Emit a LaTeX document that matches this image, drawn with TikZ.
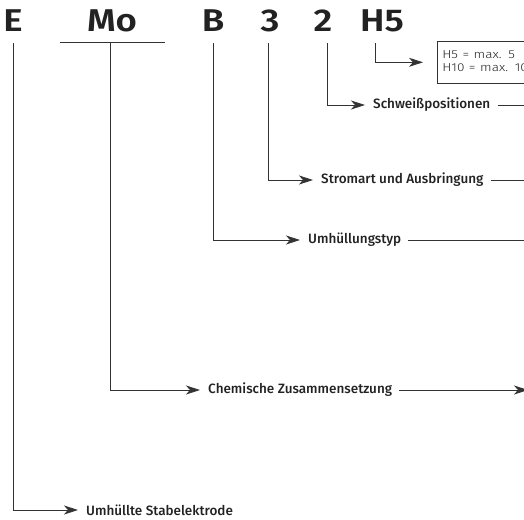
\documentclass[tikz,border=0pt]{standalone}
\usepackage{fontspec}
\setmainfont{Fira Sans}
\newfontfamily\firamed{Fira Sans Medium}
\newfontfamily\firasb{Fira Sans SemiBold}
\newfontfamily\firalight{Fira Sans Light}
\usetikzlibrary{arrows.meta}
\definecolor{ink}{HTML}{222222}
\definecolor{linec}{HTML}{333333}
\newcommand{\wideglyphs}[1]{\scalebox{1.16}[1]{#1}}
\newcommand{\widebox}[1]{\scalebox{1.18}[1]{\begin{tabular}{@{}l@{}}#1\end{tabular}}}
\begin{document}
\begin{tikzpicture}[x=1pt,y=-1pt,
  big/.style={font=\fontsize{31.5}{32}\selectfont\firasb, text=ink, anchor=base, inner sep=0pt},
  lab/.style={font=\fontsize{13.5}{15}\selectfont\firamed, text=ink, anchor=west, inner sep=0pt},
  conn/.style={draw=linec, line width=0.8pt},
  arr/.style={conn, -{Stealth[length=14pt,width=9pt,inset=4pt]}, shorten >=8pt},
  tail/.style={conn, shorten <=7pt}]
\useasboundingbox (0,0) rectangle (524,519);
% code letters
\node[big] (E)  at (13,32)  {\wideglyphs{E}};
\node[big] (Mo) at (112,32) {\wideglyphs{Mo}};
\node[big] (B)  at (213,32) {\wideglyphs{B}};
\node[big] (n3) at (270,32) {\wideglyphs{3}};
\node[big] (n2) at (323,32) {\wideglyphs{2}};
\node[big] (H5) at (382,32) {\wideglyphs{H5}};
% tops of the connectors
\coordinate (uL) at (60,42);
\coordinate (uR) at (165,42);
\coordinate (tE) at (13,43);
\coordinate (tMo) at (110,42);
\coordinate (tB) at (213,43);
\coordinate (t3) at (268,43);
\coordinate (t2) at (327,43);
\coordinate (tH) at (375,43);
% labels
\node[lab] (lE)  at (86,510)  {Umhüllte Stabelektrode};
\node[lab] (lMo) at (208,390) {Chemische Zusammensetzung};
\node[lab] (lB)  at (308,240) {Umhüllungstyp};
\node[lab] (l3)  at (321,180) {Stromart und Ausbringung};
\node[lab] (l2)  at (373,105) {Schweißpositionen};
\node[draw=linec, line width=0.6pt, anchor=north west,
      font=\fontsize{11.5}{13}\selectfont\firalight, text=ink, inner xsep=5pt, inner ysep=0pt,
      text width=95pt, minimum height=42pt] (hbox) at (437,41) {\widebox{H5 = max. 5\\H10 = max. 10}};
% right free ends
\coordinate (rMo) at (528,390);
\coordinate (rB) at (526,240);
\coordinate (r3) at (526,180);
\coordinate (r2) at (526,105);
% connectors
\draw[conn] (uL) -- (uR);
\draw[arr] (tE) |- (lE.west);
\draw[arr] (tMo) |- (lMo.west);
\draw[arr] (tB) |- (lB.west);
\draw[arr] (t3) |- (l3.west);
\draw[arr] (t2) |- (l2.west);
\draw[arr, shorten >=14pt] (tH) |- (hbox.west);
\draw[tail, -{Stealth[length=14pt,width=9pt,inset=4pt]}] (lMo.east) -- (rMo);
\draw[tail] (lB.east) -- (rB);
\draw[tail] (l3.east) -- (r3);
\draw[tail] (l2.east) -- (r2);
\end{tikzpicture}
\end{document}
